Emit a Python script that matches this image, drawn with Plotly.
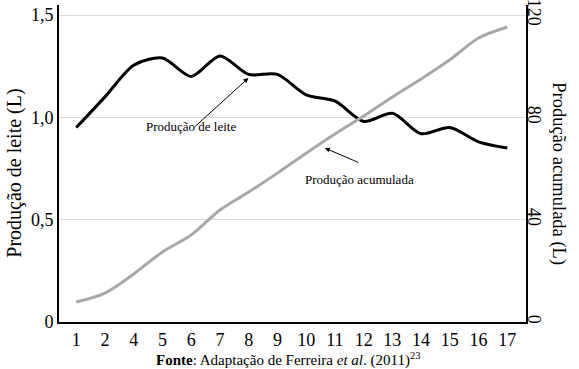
import plotly.graph_objects as go

categories = ["1", "2", "4", "5", "6", "7", "8", "9", "10", "11", "12", "13", "14", "15", "16", "17"]
producao_leite = [0.95, 1.10, 1.255, 1.29, 1.20, 1.30, 1.21, 1.21, 1.11, 1.08, 0.98, 1.02, 0.92, 0.95, 0.88, 0.85]
producao_acumulada = [7.8, 11.3, 18.8, 27.4, 34.0, 43.8, 50.8, 58.2, 66.0, 73.5, 80.5, 88.0, 95.0, 102.5, 111.0, 115.3]
left_tickvals = [0, 0.5, 1.0, 1.5]
left_ticktext = ["0", "0,5", "1,0", "1,5"]
right_tickvals = [0, 40, 80, 120]
right_ticktext = ["0", "40", "80", "120"]

FONT = "Liberation Serif, Times New Roman, serif"
idx = list(range(len(categories)))

fig = go.Figure()
fig.add_trace(go.Scatter(x=idx, y=producao_acumulada, yaxis="y2", mode="lines",
                         line=dict(color="#a8a8a8", width=3, shape="spline", smoothing=0.8),
                         showlegend=False, hoverinfo="skip"))
fig.add_trace(go.Scatter(x=idx, y=producao_leite, mode="lines",
                         line=dict(color="#000000", width=3, shape="spline", smoothing=0.8),
                         showlegend=False, hoverinfo="skip"))

fig.update_layout(
    width=579, height=369,
    margin=dict(l=59, r=53, t=5, b=47, autoexpand=False),
    paper_bgcolor="white", plot_bgcolor="white",
    font=dict(family=FONT, color="#000", size=18),
    xaxis=dict(range=[-0.6, 15.65], tickmode="array", tickvals=idx, ticktext=categories,
               showgrid=False, zeroline=False, showline=True, linecolor="#000", linewidth=2,
               ticks="", tickfont=dict(size=18, family=FONT), automargin=False),
    yaxis=dict(range=[0, 1.549], tickmode="array", tickvals=left_tickvals, ticktext=left_ticktext,
               showgrid=True, gridcolor="#dcdcdc", gridwidth=1, zeroline=False,
               showline=True, linecolor="#000", linewidth=2, ticks="",
               tickfont=dict(size=18, family=FONT), automargin=False),
    yaxis2=dict(range=[0, 1.549 * 80], overlaying="y", side="right", tickmode="array",
                tickvals=right_tickvals, ticktext=right_ticktext, tickangle=90,
                ticklabeloverflow="allow", ticklabelstandoff=-7,
                showgrid=False, zeroline=False, showline=True, linecolor="#000", linewidth=1.5,
                ticks="", tickfont=dict(size=18, family=FONT), automargin=False),
)

annotations = [
    # axis titles
    dict(text="Produção de leite (L)", xref="paper", yref="paper", x=-0.094, y=0.468,
         textangle=-90, showarrow=False, font=dict(size=20, family=FONT),
         xanchor="center", yanchor="middle"),
    dict(text="Produção acumulada (L)", xref="paper", yref="paper", x=1.068, y=0.467,
         textangle=90, showarrow=False, font=dict(size=18.5, family=FONT),
         xanchor="center", yanchor="middle"),
    # labels
    dict(text="Produção de leite", xref="x", yref="y", x=4.01, y=0.953, showarrow=False,
         font=dict(size=13, family=FONT), xanchor="center", yanchor="middle"),
    dict(text="Produção acumulada", xref="x", yref="y", x=9.86, y=0.694, showarrow=False,
         font=dict(size=13, family=FONT), xanchor="center", yanchor="middle"),
    # arrows
    dict(text="", xref="x", yref="y", x=5.99, y=1.192, ax=-55, ay=50, showarrow=True,
         arrowhead=2, arrowsize=1, arrowwidth=1, arrowcolor="#000"),
    dict(text="", xref="x", yref="y", x=8.65, y=0.85, ax=35, ay=15, showarrow=True,
         arrowhead=2, arrowsize=1, arrowwidth=1, arrowcolor="#000"),
    # footer
    dict(text="<b>Fonte</b>: Adaptação de Ferreira <i>et al</i>. (2011)<sup>23</sup>",
         xref="paper", yref="paper", x=0.49, y=-0.118, showarrow=False,
         font=dict(size=15, family=FONT), xanchor="center", yanchor="middle"),
]
fig.update_layout(annotations=annotations)

fig.write_html("out.html", config={"displayModeBar": False},
               post_script="document.body.style.margin='0';document.body.style.overflow='hidden';")
